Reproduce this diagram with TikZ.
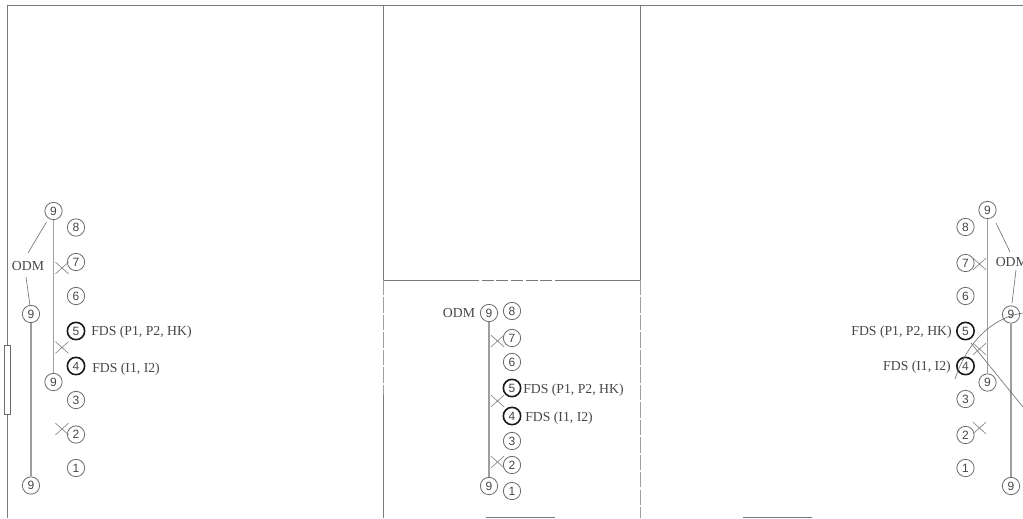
\documentclass[tikz,border=0pt]{standalone}
\usepackage{fontspec}
\setmainfont{Liberation Serif}
\newfontfamily\digitfont{Liberation Sans}
\usetikzlibrary{shapes.misc}
\definecolor{wallc}{gray}{0.48}
\definecolor{linec}{gray}{0.62}
\definecolor{inkc}{gray}{0.28}
\tikzset{
  wall/.style={draw=wallc,line width=0.65pt},
  dashwall/.style={draw=linec,line width=0.9pt,dash pattern=on 11.5pt off 1.6pt},
  rail/.style={draw=linec,line width=1pt},
  thin line/.style={draw=inkc!80,line width=0.45pt},
  num/.style={circle,draw=inkc!80,line width=0.6pt,minimum size=13pt,inner sep=0pt,text=inkc,font=\digitfont\fontsize{9}{9}\selectfont},
  boldnum/.style={num,draw=black!90,line width=1.2pt},
  lab/.style={text=inkc,inner sep=0pt,font=\fontsize{10.3}{12}\selectfont},
  xmark/.style={cross out,draw=inkc!65,line width=0.5pt,minimum width=9.2pt,minimum height=8.2pt,inner sep=0pt},
}
\begin{document}
\begin{tikzpicture}[x=0.75pt,y=-0.75pt]
\clip (0,0) rectangle (1023,518);
\fill[white] (0,0) rectangle (1023,518);
% walls
\coordinate (tl) at (7.5,5); \coordinate (tr) at (1023,5);
\coordinate (bl) at (7.5,518);
\coordinate (m1t) at (383.5,5); \coordinate (m2t) at (640.5,5);
\coordinate (m1h) at (383.5,280); \coordinate (m2h) at (640.5,280);
\coordinate (m1d) at (383.5,395); \coordinate (m1b) at (383.5,518);
\coordinate (m2b) at (640.5,518);
\coordinate (h1) at (467,280); \coordinate (h2) at (556,280);
\draw[wall] (bl) -- (tl) -- (tr);
\draw[wall] (m1t) -- (m1h);
\draw[wall] (m2t) -- (m2h);
\draw[wall] (m1h) -- (h1);
\draw[wall] (h2) -- (m2h);
\draw[draw=wallc,line width=0.65pt,dash pattern=on 9pt off 2pt] (h1) -- (h2);
\draw[dashwall] (m1h) -- (m1d);
\draw[wall] (m1d) -- (m1b);
\draw[dashwall] (m2h) -- (m2b);
\node[draw=inkc!80,line width=0.5pt,fill=white,minimum width=4.5pt,minimum height=52pt,inner sep=0pt] (door) at (7.5,379.5) {};
\coordinate (s1a) at (486,517.4); \coordinate (s1b) at (555,517.4);
\coordinate (s2a) at (743,517.4); \coordinate (s2b) at (812,517.4);
\draw[wall] (s1a) -- (s1b);
\draw[wall] (s2a) -- (s2b);
% left group
\node[num] (La) at (53.5,211) {9};
\node[num] (Lb) at (53.5,382) {9};
\node[num] (Lc) at (31,314) {9};
\node[num] (Ld) at (31,485.5) {9};
\node[num] (L8) at (76,227.5) {8};
\node[num] (L7) at (76,262) {7};
\node[num] (L6) at (76,296) {6};
\node[boldnum] (L5) at (76,331) {5};
\node[boldnum] (L4) at (76,366) {4};
\node[num] (L3) at (76,400) {3};
\node[num] (L2) at (76,434.5) {2};
\node[num] (L1) at (76,468) {1};
\draw[rail] (La) -- (Lb);
\draw[rail] (Lc) -- (Ld);
\node[lab] (LO) at (28,266) {ODM};
\coordinate (Ll1) at (46.5,222); \coordinate (Ll2) at (28,253);
\coordinate (Ll3) at (26,277); \coordinate (Ll4) at (30,305.5);
\draw[thin line] (Ll1) -- (Ll2);
\draw[thin line] (Ll3) -- (Ll4);
\node[lab,anchor=west] (L5t) at (91,332) {FDS (P1, P2, HK)};
\node[lab,anchor=west] (L4t) at (92,369) {FDS (I1, I2)};
\node[xmark] (Lx1) at (62,268) {};
\node[xmark] (Lx2) at (62,347.5) {};
\node[xmark] (Lx3) at (62,429) {};
% middle group
\node[num] (Ma) at (489,313) {9};
\node[num] (Mb) at (489,486) {9};
\node[num] (M8) at (512,311) {8};
\node[num] (M7) at (512,338) {7};
\node[num] (M6) at (512,362) {6};
\node[boldnum] (M5) at (512,388) {5};
\node[boldnum] (M4) at (512,416) {4};
\node[num] (M3) at (512,441) {3};
\node[num] (M2) at (512,465) {2};
\node[num] (M1) at (512,491) {1};
\draw[rail] (Ma) -- (Mb);
\node[lab] (MO) at (459,313) {ODM};
\node[lab,anchor=west] (M5t) at (523,390) {FDS (P1, P2, HK)};
\node[lab,anchor=west] (M4t) at (525,418) {FDS (I1, I2)};
\node[xmark] (Mx1) at (497.5,341) {};
\node[xmark] (Mx2) at (497.5,401) {};
\node[xmark] (Mx3) at (497.5,462) {};
% right group
\node[num] (Ra) at (987.5,210) {9};
\node[num] (Rb) at (987.5,382.5) {9};
\node[num] (Rc) at (1011,314.5) {9};
\node[num] (Rd) at (1011,486) {9};
\node[num] (R8) at (965.5,227) {8};
\node[num] (R7) at (965.5,263) {7};
\node[num] (R6) at (965.5,296) {6};
\node[boldnum] (R5) at (965.5,331) {5};
\node[boldnum] (R4) at (965.5,366) {4};
\node[num] (R3) at (965.5,399) {3};
\node[num] (R2) at (965.5,435) {2};
\node[num] (R1) at (965.5,468) {1};
\draw[rail] (Ra) -- (Rb);
\draw[rail] (Rc) -- (Rd);
\node[lab,anchor=west] (RO) at (995.5,262) {ODM};
\coordinate (Rl1) at (996,223); \coordinate (Rl2) at (1010,252);
\coordinate (Rl3) at (1016,270); \coordinate (Rl4) at (1012,303);
\draw[thin line] (Rl1) -- (Rl2);
\draw[thin line] (Rl3) -- (Rl4);
\node[lab,anchor=east] (R5t) at (952,332) {FDS (P1, P2, HK)};
\node[lab,anchor=east] (R4t) at (951,367) {FDS (I1, I2)};
\node[xmark] (Rx1) at (979.5,264) {};
\node[xmark] (Rx3) at (979.5,428) {};
\node[xmark] (Rx2) at (979.5,349) {};
\coordinate (arcA) at (955,379); \coordinate (arcB) at (1023,313);
\draw[thin line] (arcA) .. controls (966,345) and (990,318) .. (arcB);
\coordinate (dA) at (971,343); \coordinate (dB) at (1023,407);
\draw[thin line] (dA) -- (dB);
\end{tikzpicture}
\end{document}
